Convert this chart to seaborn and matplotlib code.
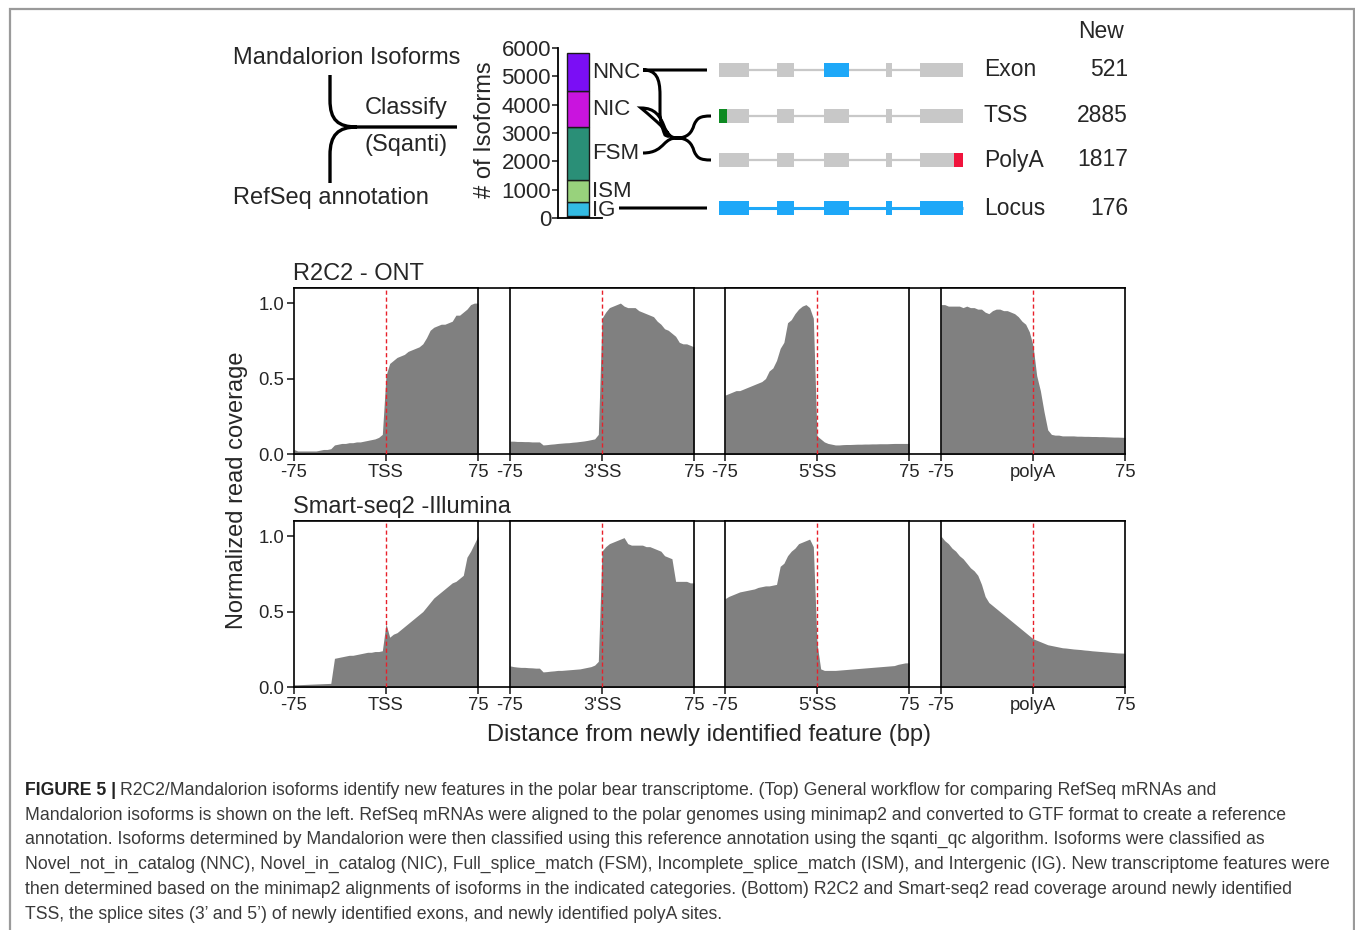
import numpy as np
import pandas as pd
import matplotlib
matplotlib.use("Agg")
import matplotlib.pyplot as plt
from matplotlib.path import Path
from matplotlib.patches import PathPatch, Rectangle
import seaborn as sns

sns.set_style("ticks")
plt.rcParams['font.family'] = ['Liberation Sans', 'DejaVu Sans']

# ---------------- data ----------------
categories = ["Other", "IG", "ISM", "FSM", "NIC", "NNC"]
isoform_counts = [70, 495, 770, 1880, 1250, 1345]
category_colors = ["#0a0a0a", "#33BBE3", "#98D27C", "#2A8F77", "#C914DE", "#7B0EF5"]
bar_ticks = [0, 1000, 2000, 3000, 4000, 5000, 6000]

feature_names = ["Exon", "TSS", "PolyA", "Locus"]
new_counts = [521, 2885, 1817, 176]

positions = list(range(-75, 76, 3))
feature_ticks = ["TSS", "3'SS", "5'SS", "polyA"]
row_titles = ["R2C2 - ONT", "Smart-seq2 -Illumina"]

r2c2_tss = [0.03, 0.02, 0.02, 0.02, 0.02, 0.02, 0.02, 0.025, 0.03, 0.03, 0.035, 0.06, 0.065,
            0.07, 0.07, 0.075, 0.075, 0.08, 0.08, 0.085, 0.09, 0.095, 0.10, 0.11, 0.13,
            0.52, 0.60, 0.62, 0.64, 0.65, 0.66, 0.68, 0.69, 0.70, 0.71, 0.73, 0.77, 0.82,
            0.84, 0.85, 0.86, 0.86, 0.87, 0.88, 0.92, 0.92, 0.94, 0.96, 0.99, 1.0, 1.0]
r2c2_3ss = [0.085, 0.085, 0.083, 0.083, 0.082, 0.082, 0.08, 0.08, 0.08, 0.06, 0.062, 0.065,
            0.067, 0.07, 0.072, 0.074, 0.075, 0.078, 0.08, 0.083, 0.086, 0.09, 0.095, 0.10,
            0.13, 0.90, 0.94, 0.97, 0.98, 0.99, 1.0, 0.98, 0.97, 0.97, 0.97, 0.95, 0.94,
            0.93, 0.92, 0.91, 0.88, 0.86, 0.83, 0.82, 0.80, 0.78, 0.74, 0.73, 0.73, 0.72, 0.71]
r2c2_5ss = [0.39, 0.40, 0.41, 0.42, 0.42, 0.43, 0.44, 0.45, 0.46, 0.47, 0.48, 0.50, 0.55,
            0.57, 0.62, 0.70, 0.74, 0.87, 0.89, 0.93, 0.96, 0.98, 0.99, 0.97, 0.90,
            0.12, 0.10, 0.08, 0.07, 0.065, 0.06, 0.06, 0.062, 0.063, 0.063, 0.064, 0.065,
            0.065, 0.066, 0.066, 0.067, 0.067, 0.068, 0.068, 0.068, 0.069, 0.07, 0.07, 0.07,
            0.07, 0.07]
r2c2_polya = [0.99, 0.99, 0.98, 0.98, 0.98, 0.98, 0.97, 0.98, 0.97, 0.97, 0.96, 0.96, 0.94,
              0.93, 0.95, 0.96, 0.96, 0.95, 0.95, 0.94, 0.93, 0.91, 0.88, 0.86, 0.81,
              0.72, 0.52, 0.42, 0.28, 0.16, 0.13, 0.125, 0.125, 0.12, 0.12, 0.12, 0.12,
              0.118, 0.118, 0.117, 0.117, 0.116, 0.116, 0.115, 0.115, 0.114, 0.113, 0.112,
              0.112, 0.111, 0.11]
ss2_tss = [0.015, 0.015, 0.016, 0.017, 0.018, 0.019, 0.02, 0.021, 0.022, 0.023, 0.024, 0.19,
           0.195, 0.20, 0.205, 0.21, 0.21, 0.215, 0.22, 0.225, 0.23, 0.23, 0.235, 0.235, 0.24,
           0.42, 0.33, 0.35, 0.36, 0.38, 0.40, 0.42, 0.44, 0.46, 0.48, 0.50, 0.53, 0.56, 0.59,
           0.61, 0.63, 0.65, 0.67, 0.69, 0.70, 0.72, 0.74, 0.86, 0.90, 0.95, 1.0]
ss2_3ss = [0.14, 0.135, 0.132, 0.13, 0.13, 0.128, 0.127, 0.125, 0.125, 0.10, 0.102, 0.105,
           0.107, 0.11, 0.11, 0.112, 0.114, 0.116, 0.118, 0.12, 0.125, 0.13, 0.135, 0.145,
           0.17, 0.90, 0.93, 0.95, 0.96, 0.97, 0.98, 0.99, 0.95, 0.94, 0.94, 0.94, 0.94,
           0.93, 0.93, 0.92, 0.91, 0.90, 0.87, 0.86, 0.85, 0.70, 0.70, 0.70, 0.70, 0.69, 0.69]
ss2_5ss = [0.585, 0.60, 0.61, 0.62, 0.63, 0.635, 0.64, 0.645, 0.65, 0.66, 0.665, 0.67, 0.67,
           0.675, 0.68, 0.80, 0.82, 0.87, 0.90, 0.92, 0.95, 0.96, 0.97, 0.98, 0.93,
           0.29, 0.12, 0.11, 0.11, 0.11, 0.11, 0.112, 0.114, 0.116, 0.118, 0.12, 0.122,
           0.124, 0.126, 0.128, 0.13, 0.132, 0.134, 0.136, 0.138, 0.14, 0.142, 0.15, 0.155,
           0.16, 0.16]
ss2_polya = [1.0, 0.97, 0.95, 0.92, 0.90, 0.87, 0.85, 0.82, 0.79, 0.77, 0.74, 0.68, 0.60,
             0.56, 0.54, 0.52, 0.50, 0.48, 0.46, 0.44, 0.42, 0.40, 0.38, 0.36, 0.34,
             0.32, 0.31, 0.30, 0.29, 0.28, 0.275, 0.27, 0.265, 0.26, 0.258, 0.255, 0.252,
             0.25, 0.248, 0.245, 0.243, 0.24, 0.238, 0.236, 0.234, 0.232, 0.23, 0.228,
             0.226, 0.225, 0.224]

coverage = [[r2c2_tss, r2c2_3ss, r2c2_5ss, r2c2_polya],
            [ss2_tss, ss2_3ss, ss2_5ss, ss2_polya]]

caption_lines = [
    "R2C2/Mandalorion isoforms identify new features in the polar bear transcriptome. (Top) General workflow for comparing RefSeq mRNAs and",
    "Mandalorion isoforms is shown on the left. RefSeq mRNAs were aligned to the polar genomes using minimap2 and converted to GTF format to create a reference",
    "annotation. Isoforms determined by Mandalorion were then classified using this reference annotation using the sqanti_qc algorithm. Isoforms were classified as",
    "Novel_not_in_catalog (NNC), Novel_in_catalog (NIC), Full_splice_match (FSM), Incomplete_splice_match (ISM), and Intergenic (IG). New transcriptome features were",
    "then determined based on the minimap2 alignments of isoforms in the indicated categories. (Bottom) R2C2 and Smart-seq2 read coverage around newly identified",
    "TSS, the splice sites (3\u2019 and 5\u2019) of newly identified exons, and newly identified polyA sites.",
]

# ---------------- figure ----------------
W, H = 1355, 930
fig = plt.figure(figsize=(W / 100, H / 100), dpi=100)
fig.patch.set_facecolor("white")


def rect(l, t, r, b):
    return [l / W, 1 - b / H, (r - l) / W, (b - t) / H]


ov = fig.add_axes([0, 0, 1, 1])
ov.set_xlim(0, W)
ov.set_ylim(H, 0)
ov.axis("off")

# outer frame
frame_c = "#9a9a9a"
ov.plot([9.5, 9.5, 1353.5, 1353.5], [930, 9.0, 9.0, 930], color=frame_c, lw=1.6, solid_joinstyle="miter")

# workflow text and bracket
ov.text(233, 58, "Mandalorion Isoforms", fontsize=17, ha="left", va="center")
ov.text(233, 198, "RefSeq annotation", fontsize=17, ha="left", va="center")
ov.text(406, 108, "Classify", fontsize=17, ha="center", va="center")
ov.text(406, 145, "(Sqanti)", fontsize=17, ha="center", va="center")
verts = [(330, 75), (330, 100), (330, 120), (338, 127), (357, 127), (457, 127),
         (330, 183), (330, 155), (330, 135), (338, 127), (357, 127)]
codes = [Path.MOVETO, Path.LINETO, Path.CURVE4, Path.CURVE4, Path.CURVE4, Path.LINETO,
         Path.MOVETO, Path.LINETO, Path.CURVE4, Path.CURVE4, Path.CURVE4]
ov.add_patch(PathPatch(Path(verts, codes), fill=False, lw=2.4, ec="black", capstyle="butt"))

# connectors from categories to features
cverts = [(643, 70), (707, 70),
          (643, 70), (656, 70), (660, 78), (660, 95), (660, 112), (660, 120), (662, 128),
          (665, 135), (670, 138), (677, 138),
          (641, 108), (655, 108), (660, 116), (664, 126), (667, 134), (671, 138), (677, 138),
          (643, 153), (655, 153), (660, 148), (664, 144), (668, 140), (671, 138), (677, 138),
          (677, 138), (688, 138), (692, 132), (694, 125), (697, 118), (700, 116), (711, 116),
          (677, 138), (688, 138), (692, 144), (694, 151), (697, 158), (700, 160), (711, 160),
          (619, 208), (707, 208)]
C4 = Path.CURVE4
ccodes = [Path.MOVETO, Path.LINETO,
          Path.MOVETO, C4, C4, C4, Path.LINETO, C4, C4, C4, C4, C4,
          Path.MOVETO, C4, C4, C4, C4, C4, C4,
          Path.MOVETO, C4, C4, C4, C4, C4, C4,
          Path.MOVETO, C4, C4, C4, C4, C4, C4,
          Path.MOVETO, C4, C4, C4, C4, C4, C4,
          Path.MOVETO, Path.LINETO]
ov.add_patch(PathPatch(Path(cverts, ccodes), fill=False, lw=2.2, ec="black"))

# gene diagrams
gray, blue, green, red = "#C8C8C8", "#1EA8F8", "#0E8A22", "#F0143C"
exon_spans = [(719, 749), (777, 794), (824, 849), (886, 892), (920, 963)]
row_y = [70, 116, 160, 208]
eh = 14
for i, y in enumerate(row_y):
    line_c = blue if i == 3 else gray
    ov.plot([719, 963], [y, y], color=line_c, lw=2.2 if i == 3 else 1.6, solid_capstyle="butt", zorder=2)
    for j, (a, b) in enumerate(exon_spans):
        c = gray
        if i == 3 or (i == 0 and j == 2):
            c = blue
        ov.add_patch(Rectangle((a, y - eh / 2), b - a, eh, color=c, lw=0, zorder=3))
    if i == 1:
        ov.add_patch(Rectangle((719, y - eh / 2), 8, eh, color=green, lw=0, zorder=4))
    if i == 2:
        ov.add_patch(Rectangle((954, y - eh / 2), 9, eh, color=red, lw=0, zorder=4))
    ov.text(984, y, feature_names[i], fontsize=16.5, ha="left", va="center")
    ov.text(1128, y, str(new_counts[i]), fontsize=16.5, ha="right", va="center")
ov.text(1124, 32, "New", fontsize=16.5, ha="right", va="center")

# stacked bar of isoform categories
axb = fig.add_axes(rect(558, 48, 602, 218))
axb.set_facecolor("none")
bottom = 0
for name, cnt, col in zip(categories, isoform_counts, category_colors):
    axb.bar(0.4545, cnt, bottom=bottom, width=0.5, color=col, edgecolor="#1a1a1a", linewidth=1.0)
    if name != "Other":
        axb.text(0.77, bottom + cnt / 2 - (40 if name == "IG" else 0), name,
                 transform=axb.get_yaxis_transform(), fontsize=16, ha="left", va="center")
    bottom += cnt
axb.set_xlim(0, 1)
axb.set_ylim(0, 6000)
axb.set_yticks(bar_ticks)
axb.set_yticklabels([str(t) for t in bar_ticks])
axb.set_xticks([])
for s in ["top", "right"]:
    axb.spines[s].set_visible(False)
for s in ["left", "bottom"]:
    axb.spines[s].set_linewidth(1.3)
    axb.spines[s].set_color("black")
axb.tick_params(axis="y", direction="out", length=4, width=1.2, labelsize=16, pad=1)
ov.text(485, 130, "# of Isoforms", fontsize=17, rotation=90, ha="center", va="center")

# coverage panels
col_lefts = [294, 510, 725, 941]
pw = 184
row_tops = [288, 521]
ph = 166
for r in range(2):
    top = row_tops[r]
    # continuous outer box lines across gaps
    ov.plot([col_lefts[0], col_lefts[-1] + pw], [top, top], color="black", lw=1.2)
    ov.plot([col_lefts[0], col_lefts[-1] + pw], [top + ph, top + ph], color="black", lw=1.2)
    for c in range(4):
        ax = fig.add_axes(rect(col_lefts[c], top, col_lefts[c] + pw, top + ph))
        df = pd.DataFrame({"pos": positions, "cov": coverage[r][c]})
        sns.histplot(data=df, x="pos", weights="cov", binwidth=3, binrange=(-76.5, 76.5),
                     element="poly", fill=True, color="#808080", alpha=1.0, linewidth=0, ax=ax)
        ax.axvline(0, color="#E8202A", ls=(0, (3, 2)), lw=1.0, zorder=5)
        ax.set_xlim(-75, 75)
        ax.set_ylim(0, 1.1)
        ax.set_xlabel("")
        ax.set_ylabel("")
        ax.set_xticks([-75, 0, 75])
        ax.set_xticklabels(["-75", feature_ticks[c], "75"])
        if c == 0:
            ax.set_yticks([0, 0.5, 1.0])
            ax.set_yticklabels(["0.0", "0.5", "1.0"])
        else:
            ax.set_yticks([])
        for s in ax.spines.values():
            s.set_visible(True)
            s.set_linewidth(1.2)
            s.set_color("black")
        ax.tick_params(direction="out", length=5, width=1.2, labelsize=13.3, pad=2)
    ov.text(col_lefts[0] - 1, top - 14, row_titles[r], fontsize=17, ha="left", va="center")

ov.text(237, 490, "Normalized read coverage", fontsize=17, rotation=90, ha="center", va="center")
ov.text(709, 735, "Distance from newly identified feature (bp)", fontsize=17, ha="center", va="center")

# caption
cap_c = "#3a3a3a"
cap_fs = 12.7
renderer = fig.canvas.get_renderer()
t1 = ov.text(25, 790, "FIGURE 5 |", fontsize=cap_fs, weight="bold", color="#222222", ha="left", va="center")
bb = t1.get_window_extent(renderer)
ov.text(bb.x1 + 4, 790, caption_lines[0], fontsize=cap_fs, color=cap_c, ha="left", va="center")
for k, line in enumerate(caption_lines[1:]):
    ov.text(25, 815 + 24.8 * k, line, fontsize=cap_fs, color=cap_c, ha="left", va="center")

fig.savefig("out.png", dpi=100)
